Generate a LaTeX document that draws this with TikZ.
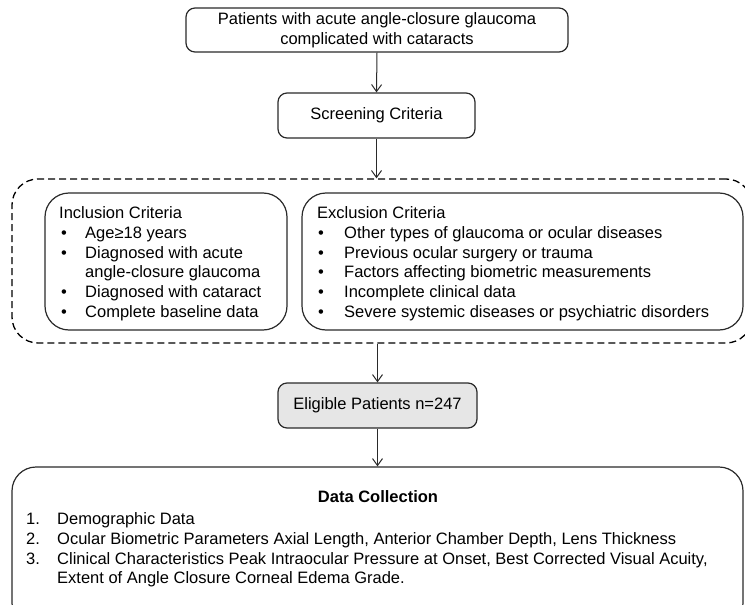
\documentclass[tikz,border=0pt]{standalone}
\usepackage{fontspec}
\setmainfont{Liberation Sans}
\usetikzlibrary{arrows.meta}
\definecolor{linegray}{HTML}{2A2A2A}
\definecolor{boxfill}{HTML}{E6E6E6}
\newcommand{\mainsize}{\fontsize{16.5}{19.8}\selectfont}
\tikzset{
  stepbox/.style={draw=linegray, line width=1.2pt, rounded corners=9pt, fill=white, inner sep=0pt, font=\mainsize},
  groupbox/.style={draw=black, line width=1.3pt, dash pattern=on 7pt off 4pt, rounded corners=26pt},
  listbox/.style={draw=linegray, line width=1.2pt, rounded corners=24pt, inner sep=0pt},
  flow/.style={draw=linegray, line width=1pt, -{Straight Barb[length=7pt,width=10pt,line width=1pt]}},
  txt/.style={inner sep=0pt, font=\mainsize},
}
\begin{document}
\begin{tikzpicture}[x=1pt,y=-1pt]
\useasboundingbox (0,0) rectangle (745,605);
% top box
\node[stepbox, minimum width=382pt, minimum height=44pt, align=center] (top) at (377,30)
  {Patients with acute angle-closure glaucoma\\complicated with cataracts};
\node[stepbox, minimum width=197pt, minimum height=45pt] (screen) at (376.5,115.5) {Screening Criteria};
% dashed group
\node[groupbox, minimum width=740pt, minimum height=164pt, inner sep=0pt] (group) at (382,261) {};
% inclusion
\node[listbox, minimum width=242pt, minimum height=137pt] (incl) at (166,261.5) {};
\node[txt, anchor=base west] (incltext) at (59,218.5)
  {\begin{tabular}[t]{@{}p{26pt}@{}l@{}}
   \multicolumn{2}{@{}l@{}}{Inclusion Criteria}\\
   \hspace*{2pt}• & Age≥18 years\\
   \hspace*{2pt}• & Diagnosed with acute\\
     & angle-closure glaucoma\\
   \hspace*{2pt}• & Diagnosed with cataract\\
   \hspace*{2pt}• & Complete baseline data
   \end{tabular}};
% exclusion
\node[listbox, minimum width=441pt, minimum height=137pt] (excl) at (522.5,261.5) {};
\node[txt, anchor=base west] (excltext) at (317,218.5)
  {\begin{tabular}[t]{@{}p{27pt}@{}l@{}}
   \multicolumn{2}{@{}l@{}}{Exclusion Criteria}\\
   \hspace*{1pt}• & Other types of glaucoma or ocular diseases\\
   \hspace*{1pt}• & Previous ocular surgery or trauma\\
   \hspace*{1pt}• & Factors affecting biometric measurements\\
   \hspace*{1pt}• & Incomplete clinical data\\
   \hspace*{1pt}• & Severe systemic diseases or psychiatric disorders
   \end{tabular}};
% eligible
\node[stepbox, fill=boxfill, minimum width=199pt, minimum height=45pt] (elig) at (377.5,405.5) {Eligible Patients n=247};
% data collection
\node[listbox, minimum width=731pt, minimum height=160pt] (data) at (377.5,547) {};
\node[txt, font=\bfseries\mainsize] (datatitle) at (378,497) {Data Collection};
\node[txt, anchor=base west] (datatext) at (26,524.5)
  {\begin{tabular}[t]{@{}p{31pt}@{}l@{}}
   1. & Demographic Data\\
   2. & Ocular Biometric Parameters Axial Length, Anterior Chamber Depth, Lens Thickness\\
   3. & Clinical Characteristics Peak Intraocular Pressure at Onset, Best Corrected Visual Acuity,\\
      & Extent of Angle Closure Corneal Edema Grade.
   \end{tabular}};
% connectors
\draw[flow] (top.south) -- (screen.north);
\draw[flow] (screen.south) -- (screen.south |- group.north);
\draw[flow] (group.south -| elig.north) -- (elig.north);
\draw[flow] (elig.south) -- (elig.south |- data.north);
\end{tikzpicture}
\end{document}
